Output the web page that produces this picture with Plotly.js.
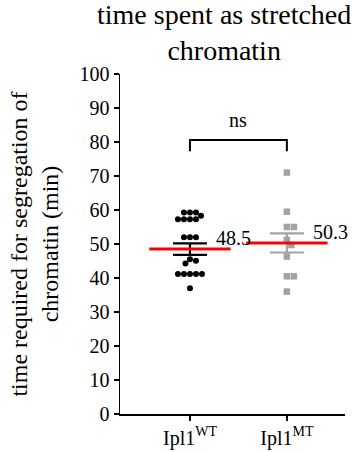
<!DOCTYPE html>
<html><head><meta charset="utf-8">
<script src="https://cdn.plot.ly/plotly-3.0.1.min.js"></script>
<style>
html,body{margin:0;padding:0;background:#fff}
#chart{width:353px;height:452px}
</style>
</head><body>
<div id="chart"></div>
<script>
// ---- data ----
const groups = ['Ipl1<sup>WT</sup>', 'Ipl1<sup>MT</sup>'];
const wtValues = [59.3,59.3,59.3,58.3,57.3,57.3,57.3,57.3,52,52,52,45.5,45.1,44.3,41.2,41.2,41.2,41.2,41.2,37];
const mtValues = [71,59.5,55,55,51.2,49.7,46.3,40.5,40.5,36];
const means = [48.5, 50.3];
const sems = [1.7, 2.8];
const meanLabels = ['48.5', '50.3'];
const sigLabel = 'ns';
const titleText = 'time spent as stretched<br>chromatin';
const yTitle = 'time required for segregation of<br>chromatin (min)';

// ---- layout constants ----
const W = 353, H = 452;
const M = {l:120, r:8, t:74, b:38};
const xRange = [0.278, 2.6];
const yRange = [0, 100];
const pxPerX = (W - M.l - M.r) / (xRange[1] - xRange[0]);
const pxPerY = (H - M.t - M.b) / (yRange[1] - yRange[0]);

function swarm(vals, center, minD) {
  const order = vals.map((v,i)=>i).sort((a,b)=>vals[b]-vals[a]);
  const placed = [];
  const xs = new Array(vals.length);
  for (const i of order) {
    const py = vals[i]*pxPerY;
    let chosen = 0;
    for (let k=0; k<400; k++) {
      const off = (k===0 ? 0 : (k%2 ? 1 : -1)*Math.ceil(k/2)) * 0.5;
      let ok = true;
      for (const p of placed) {
        const dx = p.x-off, dy = p.y-py;
        if (dx*dx+dy*dy < minD*minD) { ok=false; break; }
      }
      if (ok) { chosen = off; break; }
    }
    placed.push({x:chosen, y:py});
    xs[i] = center + chosen/pxPerX;
  }
  return xs;
}

const grey = '#a3a3a3';
const halfMean = 0.42;

const traces = [];
traces.push({type:'scatter', mode:'markers', x: swarm(wtValues, 1, 5.8), y: wtValues,
  marker:{symbol:'circle', size:6, color:'#000'}, hoverinfo:'y', showlegend:false});
traces.push({type:'scatter', mode:'markers', x: swarm(mtValues, 2, 6.8), y: mtValues,
  marker:{symbol:'square', size:6.5, color:grey}, hoverinfo:'y', showlegend:false});
const errColors = ['#000', grey];
[0,1].forEach(g => {
  traces.push({type:'scatter', mode:'markers', x:[g+1], y:[means[g]],
    marker:{size:1, color:'rgba(0,0,0,0)'},
    error_y:{type:'data', array:[sems[g]], visible:true, color:errColors[g], thickness:2.2, width:17},
    hoverinfo:'skip', showlegend:false});
});
[0,1].forEach(g => {
  traces.push({type:'scatter', mode:'lines', x:[g+1-halfMean, g+1+halfMean], y:[means[g], means[g]],
    line:{color:'#ff0000', width:3}, hoverinfo:'skip', showlegend:false});
});
traces.push({type:'scatter', mode:'lines', x:[1,1,2,2], y:[77.3,80.6,80.6,77.3],
  line:{color:'#000', width:2}, hoverinfo:'skip', showlegend:false});

const annotations = [];
[0,1].forEach(g => {
  annotations.push({x:g+1+halfMean, y:means[g], xref:'x', yref:'y', text:meanLabels[g],
    showarrow:false, xanchor:'left', yanchor:'bottom', xshift:-17, yshift:-2});
});
annotations.push({x:1.5, y:80.6, xref:'x', yref:'y', text:sigLabel, showarrow:false,
  yanchor:'bottom', yshift:7});

const layout = {
  width:W, height:H, margin:M,
  paper_bgcolor:'#fff', plot_bgcolor:'#fff',
  font:{family:'Liberation Serif', size:20, color:'#000'},
  showlegend:false,
  title:{text:titleText, xref:'container', x:0.635, xanchor:'center', yref:'container', y:0.948, yanchor:'top'},
  xaxis:{range:xRange, tickvals:[1,2], ticktext:groups, showline:true, linecolor:'#000', linewidth:1.5,
    ticks:'outside', ticklen:5, tickwidth:1.5, tickcolor:'#000', showgrid:false, zeroline:false,
    fixedrange:true},
  yaxis:{range:yRange, dtick:10, tick0:0, showline:true, linecolor:'#000', linewidth:1.5,
    ticks:'outside', ticklen:5, tickwidth:1.5, tickcolor:'#000', showgrid:false, zeroline:false,
    title:{text:yTitle, standoff:14}, fixedrange:true},
  annotations: annotations
};
Plotly.newPlot('chart', traces, layout, {displayModeBar:false, staticPlot:true});
</script>
</body></html>
